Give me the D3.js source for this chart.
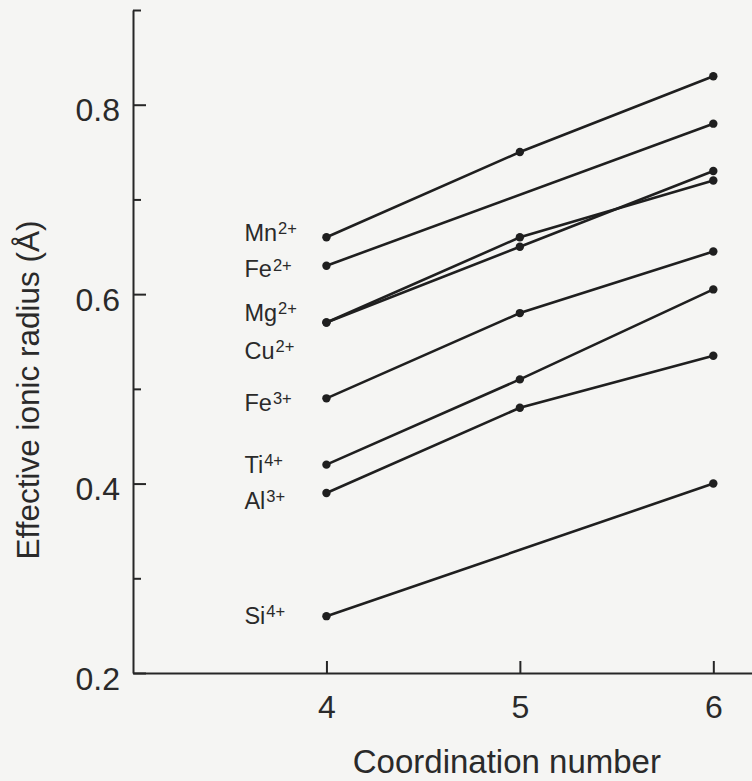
<!DOCTYPE html>
<html>
<head>
<meta charset="utf-8">
<script src="https://cdn.jsdelivr.net/npm/d3@7"></script>
<style>
  body { margin: 0; background: #f5f5f3; }
  svg { display: block; font-family: "Liberation Sans", Arial, Helvetica, sans-serif; }
  .axis path, .axis line { stroke: #262626; stroke-width: 2; }
  .axis text { fill: #2a2a2a; font-size: 32px; font-family: "Liberation Sans", Arial, sans-serif; }
</style>
</head>
<body>
<div id="chart"></div>
<script>
// Shannon effective ionic radii (Å) by coordination number
const ionSymbols = ["Mn", "Fe", "Mg", "Cu", "Fe", "Ti", "Al", "Si"]
const ionCharges = ["2+", "2+", "2+", "2+", "3+", "4+", "3+", "4+"]
const coordNumbers = [4, 5, 6]
const radiusCN4 = [0.66, 0.63, 0.57, 0.57, 0.49, 0.42, 0.39, 0.26]
const radiusCN5 = [0.75, null, 0.66, 0.65, 0.58, 0.51, 0.48, null]
const radiusCN6 = [0.83, 0.78, 0.72, 0.73, 0.645, 0.605, 0.535, 0.40]
const yMajorTicks = [0.2, 0.4, 0.6, 0.8]
const yMinorTicks = [0.3, 0.5, 0.7, 0.9]

// small vertical nudges (px) so the labels don't collide
const labelNudge = [-5, 3, -10, 28, 4, 0, 7, -1]

const svgWidth = 752
const svgHeight = 781
let margin = { top: 10, right: 0, bottom: 108, left: 133 }
let width = svgWidth - margin.left - margin.right
let height = svgHeight - margin.top - margin.bottom

let svg = d3
  .select("#chart")
  .append("svg")
  .attr("width", svgWidth)
  .attr("height", svgHeight)

let chartGroup = svg
  .append("g")
  .attr("transform", `translate(${margin.left}, ${margin.top})`)

let xLinearScale = d3.scaleLinear().domain([3, 6.2]).range([0, width])
let yLinearScale = d3.scaleLinear().domain([0.2, 0.9]).range([height, 0])

// axes
let bottomAxis = d3
  .axisBottom(xLinearScale)
  .tickValues(coordNumbers)
  .tickSizeInner(-12)
  .tickSizeOuter(0)
  .tickPadding(22)
  .tickFormat(d3.format("d"))
let leftAxis = d3
  .axisLeft(yLinearScale)
  .tickValues(yMajorTicks)
  .tickSizeInner(-13)
  .tickSizeOuter(0)
  .tickPadding(13)
  .tickFormat(d3.format(".1f"))
let leftMinor = d3
  .axisLeft(yLinearScale)
  .tickValues(yMinorTicks)
  .tickSizeInner(-8)
  .tickSizeOuter(0)
  .tickFormat("")

chartGroup
  .append("g")
  .classed("axis", true)
  .attr("transform", `translate(0, ${height})`)
  .call(bottomAxis)
chartGroup
  .append("g")
  .classed("axis", true)
  .call(leftAxis)
  .selectAll("text")
  .attr("dy", "0.5em")
chartGroup
  .append("g")
  .classed("axis", true)
  .call(leftMinor)
  .select(".domain")
  .remove()

// series
let series = ionSymbols.map((s, i) => ({
  symbol: s,
  charge: ionCharges[i],
  nudge: labelNudge[i],
  points: [radiusCN4[i], radiusCN5[i], radiusCN6[i]]
    .map((r, j) => ({ cn: coordNumbers[j], r: r }))
    .filter(p => p.r !== null)
}))

let line = d3
  .line()
  .x(d => xLinearScale(d.cn))
  .y(d => yLinearScale(d.r))

chartGroup
  .selectAll(".ion-line")
  .data(series)
  .enter()
  .append("path")
  .attr("d", d => line(d.points))
  .attr("fill", "none")
  .attr("stroke", "#1f1f1f")
  .attr("stroke-width", 2.6)

chartGroup
  .selectAll(".dot")
  .data(series.flatMap(d => d.points))
  .enter()
  .append("circle")
  .attr("cx", d => xLinearScale(d.cn))
  .attr("cy", d => yLinearScale(d.r))
  .attr("r", 4.2)
  .attr("fill", "#1f1f1f")

// ion labels left of CN 4
let labels = chartGroup
  .selectAll(".ion-label")
  .data(series)
  .enter()
  .append("text")
  .attr("x", xLinearScale(4) - 82)
  .attr("y", d => yLinearScale(d.points[0].r) + d.nudge)
  .attr("dy", "0.36em")
  .style("font-size", "23.5px")
  .style("fill", "#2a2a2a")
labels.append("tspan").text(d => d.symbol)
labels
  .append("tspan")
  .attr("dx", 1)
  .attr("dy", "-0.4em")
  .style("font-size", "16.5px")
  .text(d => d.charge)

// axis titles
svg
  .append("text")
  .attr("x", margin.left + xLinearScale(5) - 13)
  .attr("y", 773)
  .attr("text-anchor", "middle")
  .style("font-size", "33px")
  .style("fill", "#2a2a2a")
  .text("Coordination number")

svg
  .append("text")
  .attr("transform", "translate(39, 390) rotate(-90)")
  .attr("text-anchor", "middle")
  .style("font-size", "31.5px")
  .style("fill", "#2a2a2a")
  .text("Effective ionic radius (Å)")
</script>
</body>
</html>
